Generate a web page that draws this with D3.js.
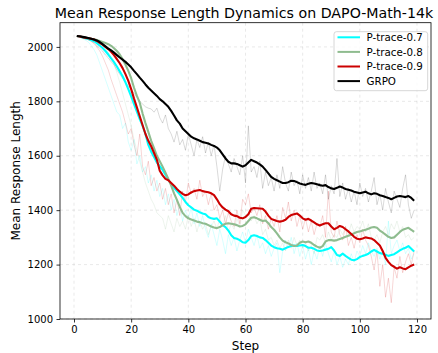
<!DOCTYPE html>
<html>
<head>
<meta charset="utf-8">
<script src="https://cdn.jsdelivr.net/npm/d3@7"></script>
<style>
  html, body { margin: 0; padding: 0; background: #fff; }
  svg { display: block; font-family: "DejaVu Sans", sans-serif; }
</style>
</head>
<body>
<svg id="chart" width="438" height="353"></svg>
<script>
// ---------- DATA ----------
const steps = d3.range(1, 120); // 1..119

const seriesNames = ["P-trace-0.7", "P-trace-0.8", "P-trace-0.9", "GRPO"];
const seriesColors = ["#00FFFF", "#8FBC8F", "#CC0000", "#000000"];

const xTicks = [0, 20, 40, 60, 80, 100, 120];
const yTicks = [1000, 1200, 1400, 1600, 1800, 2000];

// smoothed curves
const smooth07 = [2040,2038,2035,2032,2029,2025,2021,2014,2005,1996,1985,1972,1958,1944,1928,1910,1892,1870,1845,1818,
1790,1762,1735,1710,1680,1640,1615,1595,1575,1562,1548,1530,1512,1495,1482,1470,1458,1445,1430,1418,
1410,1402,1398,1392,1388,1385,1375,1370,1368,1370,1358,1345,1338,1325,1308,1298,1295,1290,1282,1280,
1290,1305,1308,1305,1300,1298,1290,1280,1270,1264,1260,1258,1255,1260,1265,1268,1270,1268,1270,1272,
1268,1262,1262,1258,1252,1250,1252,1255,1258,1264,1252,1235,1232,1240,1232,1225,1218,1216,1220,1228,
1232,1235,1240,1248,1254,1248,1242,1240,1236,1232,1235,1238,1245,1252,1258,1262,1268,1258,1248];

const smooth08 = [2040,2038,2036,2034,2032,2030,2028,2025,2022,2018,2014,2010,2004,1995,1985,1972,1955,1935,1912,1885,
1850,1820,1795,1755,1720,1688,1655,1628,1600,1580,1560,1538,1515,1490,1462,1438,1412,1390,1378,1370,
1366,1362,1358,1356,1352,1350,1345,1340,1336,1334,1338,1345,1350,1352,1350,1348,1345,1340,1342,1348,
1360,1372,1374,1370,1365,1360,1362,1352,1338,1328,1315,1300,1288,1282,1278,1272,1268,1270,1280,1285,
1282,1285,1280,1272,1266,1262,1268,1285,1290,1290,1288,1290,1294,1298,1302,1306,1310,1315,1320,1322,
1325,1328,1332,1336,1338,1335,1325,1318,1310,1302,1298,1300,1310,1320,1328,1332,1335,1328,1320];

const smooth09 = [2040,2038,2036,2034,2032,2030,2027,2022,2015,2008,2000,1992,1982,1970,1955,1940,1922,1900,1875,1845,
1810,1778,1745,1712,1680,1655,1635,1610,1585,1545,1528,1515,1510,1500,1490,1478,1468,1460,1455,1458,
1465,1470,1472,1474,1470,1468,1466,1462,1455,1440,1422,1410,1402,1396,1385,1380,1378,1372,1370,1375,
1385,1405,1408,1407,1406,1405,1395,1380,1368,1364,1360,1358,1360,1365,1375,1382,1385,1388,1380,1370,
1365,1368,1362,1355,1348,1344,1348,1352,1352,1340,1330,1335,1342,1338,1330,1322,1312,1302,1295,1293,
1296,1300,1298,1296,1290,1280,1270,1250,1225,1210,1198,1192,1185,1190,1186,1183,1190,1196,1200];

const smoothGRPO = [2040,2039,2037,2035,2033,2030,2027,2024,2018,2010,2002,1994,1987,1979,1970,1961,1953,1945,1935,1925,
1912,1900,1887,1875,1862,1850,1840,1830,1820,1808,1800,1790,1780,1765,1748,1730,1718,1700,1690,1680,
1670,1664,1660,1655,1650,1648,1645,1640,1636,1630,1620,1605,1590,1578,1572,1572,1570,1565,1560,1565,
1575,1585,1580,1575,1568,1560,1548,1535,1522,1515,1510,1505,1500,1500,1503,1508,1507,1503,1498,1495,
1493,1497,1500,1498,1495,1492,1490,1492,1485,1480,1478,1482,1487,1483,1478,1475,1472,1468,1465,1462,
1465,1468,1462,1458,1462,1460,1455,1452,1448,1445,1440,1445,1450,1452,1450,1448,1452,1445,1435];

// raw (unsmoothed) curves
const raw07 = [2040,2035,2030,2025,2018,2005,1990,1970,1940,1910,1880,1850,1820,1790,1760,1750,1700,1720,1650,1620,
1660,1570,1600,1540,1560,1500,1530,1470,1510,1450,1480,1420,1460,1400,1440,1380,1420,1360,1400,1370,
1410,1350,1390,1340,1380,1330,1300,1350,1310,1270,1330,1290,1240,1310,1270,1300,1250,1290,1320,1280,
1330,1300,1270,1310,1260,1280,1240,1270,1230,1260,1280,1170,1250,1290,1260,1300,1240,1280,1230,1270,
1220,1260,1200,1250,1220,1270,1230,1280,1240,1210,1250,1200,1230,1190,1220,1200,1240,1210,1250,1230,
1270,1240,1280,1250,1230,1260,1220,1250,1200,1360,1240,1270,1290,1250,1280,1240,1260,1220,1240];

const raw08 = [2040,2038,2035,2032,2030,2027,2024,2020,2015,2005,1995,1980,1960,1935,1905,1870,1830,1790,1750,1710,
1660,1620,1580,1540,1500,1470,1440,1420,1390,1380,1370,1330,1380,1350,1320,1370,1340,1360,1330,1380,
1340,1370,1320,1360,1330,1350,1310,1340,1360,1330,1370,1340,1380,1320,1350,1330,1370,1340,1400,1380,
1390,1360,1380,1350,1370,1310,1330,1290,1300,1270,1290,1260,1280,1250,1290,1260,1300,1270,1290,1260,
1280,1250,1270,1240,1300,1290,1310,1280,1320,1290,1310,1300,1330,1310,1340,1310,1350,1320,1340,1330,
1360,1320,1350,1300,1290,1310,1280,1320,1340,1310,1350,1330,1360,1320,1340,1300,1310,1290,1300];

const raw09 = [2040,2036,2033,2030,2026,2020,2012,2000,1985,1965,1940,1915,1880,1850,1820,1790,1760,1720,1680,1700,
1640,1600,1680,1560,1530,1580,1490,1520,1470,1500,1440,1480,1420,1460,1390,1440,1380,1470,1430,1500,
1460,1480,1440,1510,1450,1470,1420,1460,1400,1420,1370,1400,1350,1390,1360,1340,1400,1350,1440,1420,
1460,1390,1410,1380,1420,1350,1380,1330,1370,1340,1380,1320,1410,1370,1430,1360,1400,1340,1380,1330,
1370,1320,1360,1310,1350,1340,1380,1300,1470,1320,1300,1360,1310,1290,1340,1270,1300,1260,1310,1280,
1330,1290,1270,1230,1180,1250,1120,1200,1080,1150,1060,1190,1150,1230,1170,1210,1240,1200,1250];

const rawGRPO = [2040,2037,2034,2030,2027,2022,2015,2005,1995,1985,1970,1960,1945,1935,1915,1900,1885,1870,1855,1845,
1830,1815,1800,1790,1780,1775,1772,1760,1775,1740,1720,1750,1700,1680,1650,1690,1640,1660,1620,1680,
1640,1600,1660,1630,1670,1610,1650,1600,1640,1560,1470,1550,1600,1570,1540,1590,1560,1530,1600,1500,
1710,1540,1560,1520,1580,1480,1540,1490,1520,1470,1530,1480,1560,1500,1470,1540,1490,1510,1460,1530,
1480,1520,1470,1540,1480,1500,1460,1530,1440,1490,1460,1590,1450,1500,1440,1480,1430,1470,1420,1500,
1450,1480,1430,1470,1520,1420,1460,1400,1480,1430,1390,1470,1440,1410,1480,1530,1420,1370,1400];

const smoothSeries = [smooth07, smooth08, smooth09, smoothGRPO];
const rawSeries = [raw07, raw08, raw09, rawGRPO];

// ---------- LAYOUT ----------
const plot = { left: 60, right: 431, top: 22.7, bottom: 319 };

const svg = d3.select("#chart");

const x = d3.scaleLinear().domain([-4.9, 124.9]).range([plot.left, plot.right]);
const y = d3.scaleLinear().domain([1000, 2089]).range([plot.bottom, plot.top]);

// grid
const grid = svg.append("g");
grid.selectAll("line.vg").data(xTicks).join("line")
  .attr("x1", d => x(d)).attr("x2", d => x(d))
  .attr("y1", plot.top).attr("y2", plot.bottom)
  .attr("stroke", "#b0b0b0").attr("stroke-opacity", 0.35)
  .attr("stroke-width", 0.8).attr("stroke-dasharray", "3,3");
grid.selectAll("line.hg").data(yTicks).join("line")
  .attr("x1", plot.left).attr("x2", plot.right)
  .attr("y1", d => y(d)).attr("y2", d => y(d))
  .attr("stroke", "#b0b0b0").attr("stroke-opacity", 0.35)
  .attr("stroke-width", 0.8).attr("stroke-dasharray", "3,3");

// clip
svg.append("clipPath").attr("id", "clip").append("rect")
  .attr("x", plot.left).attr("y", plot.top)
  .attr("width", plot.right - plot.left).attr("height", plot.bottom - plot.top);

const line = d3.line().x((d, i) => x(steps[i])).y(d => y(d));

const linesG = svg.append("g").attr("clip-path", "url(#clip)");
rawSeries.forEach((s, k) => {
  linesG.append("path").datum(s)
    .attr("d", line).attr("fill", "none")
    .attr("stroke", seriesColors[k])
    .attr("stroke-opacity", k === 3 ? 0.15 : 0.16)
    .attr("stroke-width", 1);
});
smoothSeries.forEach((s, k) => {
  linesG.append("path").datum(s)
    .attr("d", line).attr("fill", "none")
    .attr("stroke", seriesColors[k])
    .attr("stroke-width", 2.1)
    .attr("stroke-linejoin", "round");
});

// axes
const xAxis = d3.axisBottom(x).tickValues(xTicks).tickSize(3.5).tickPadding(3.5).tickFormat(d3.format("d"));
const yAxis = d3.axisLeft(y).tickValues(yTicks).tickSize(3.5).tickPadding(3.5).tickFormat(d3.format("d"));

const gx = svg.append("g").attr("transform", `translate(0,${plot.bottom})`).call(xAxis);
const gy = svg.append("g").attr("transform", `translate(${plot.left},0)`).call(yAxis);
[gx, gy].forEach(g => {
  g.select(".domain").remove();
  g.selectAll(".tick line").attr("stroke", "#000").attr("stroke-width", 0.8);
  g.selectAll(".tick text").attr("fill", "#000").style("font-size", "10px")
    .style("font-family", "DejaVu Sans, sans-serif");
});

// frame
svg.append("rect")
  .attr("x", plot.left).attr("y", plot.top)
  .attr("width", plot.right - plot.left).attr("height", plot.bottom - plot.top)
  .attr("fill", "none").attr("stroke", "#000").attr("stroke-width", 0.8);

// labels
svg.append("text").attr("x", 244).attr("y", 17.5)
  .attr("text-anchor", "middle").style("font-size", "14.2px")
  .text("Mean Response Length Dynamics on DAPO-Math-14k");
svg.append("text").attr("x", (plot.left + plot.right) / 2).attr("y", 350)
  .attr("text-anchor", "middle").style("font-size", "12px").text("Step");
svg.append("text")
  .attr("transform", `translate(20,${(plot.top + plot.bottom) / 2}) rotate(-90)`)
  .attr("text-anchor", "middle").style("font-size", "12px").text("Mean Response Length");

// legend
const lg = svg.append("g");
lg.append("rect").attr("x", 334).attr("y", 31.7).attr("width", 93.7).attr("height", 59)
  .attr("rx", 2.5).attr("fill", "#fff").attr("fill-opacity", 0.8)
  .attr("stroke", "#cccccc").attr("stroke-width", 0.8);
seriesNames.forEach((n, k) => {
  const yy = 37.3 + k * 14.6;
  lg.append("line").attr("x1", 337.5).attr("x2", 360).attr("y1", yy).attr("y2", yy)
    .attr("stroke", seriesColors[k]).attr("stroke-width", 2);
  lg.append("text").attr("x", 366.5).attr("y", yy).attr("dy", "0.36em")
    .style("font-size", "10.3px").text(n);
});
</script>
</body>
</html>
